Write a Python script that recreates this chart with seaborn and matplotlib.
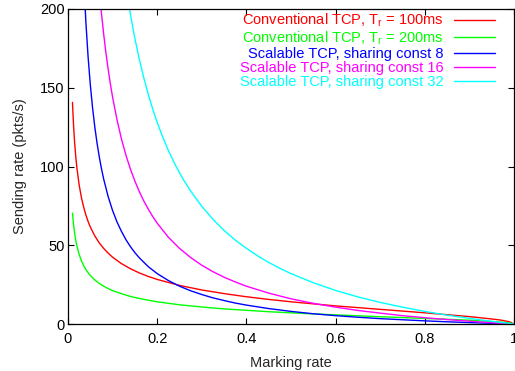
import numpy as np
import pandas as pd
import seaborn as sns
import matplotlib.pyplot as plt

sns.set_style('ticks')
plt.rcParams['font.family'] = ['Liberation Sans', 'DejaVu Sans']
plt.rcParams['mathtext.fontset'] = 'custom'
plt.rcParams['mathtext.rm'] = 'Liberation Sans'
plt.rcParams['mathtext.it'] = 'Liberation Sans:italic'

# Conventional TCP curves
x_conv = [0.01, 0.0125, 0.015, 0.0175, 0.02, 0.025, 0.03, 0.035, 0.04, 0.045, 0.05,
          0.06, 0.07, 0.08, 0.09, 0.1, 0.12, 0.14, 0.16, 0.18, 0.2, 0.25, 0.3, 0.35,
          0.4, 0.45, 0.5, 0.55, 0.6, 0.65, 0.7, 0.75, 0.8, 0.85, 0.9, 0.95, 0.97, 0.99, 1.0]
y_conv100 = [140.7, 125.7, 114.6, 106.0, 99.0, 88.3, 80.4, 74.3, 69.3, 65.1, 61.6,
             56.0, 51.5, 48.0, 45.0, 42.4, 38.3, 35.1, 32.4, 30.2, 28.3, 24.5, 21.6, 19.3,
             17.3, 15.6, 14.1, 12.8, 11.5, 10.4, 9.3, 8.2, 7.1, 5.9, 4.7, 3.2, 2.5, 1.4, 0.0]
y_conv200 = [70.4, 62.8, 57.3, 53.0, 49.5, 44.2, 40.2, 37.1, 34.6, 32.6, 30.8,
             28.0, 25.8, 24.0, 22.5, 21.2, 19.2, 17.5, 16.2, 15.1, 14.1, 12.2, 10.8, 9.6,
             8.7, 7.8, 7.1, 6.4, 5.8, 5.2, 4.6, 4.1, 3.5, 3.0, 2.4, 1.6, 1.2, 0.7, 0.0]

# Scalable TCP curves
x_s8 = [0.035, 0.04, 0.045, 0.05, 0.055, 0.06, 0.065, 0.07, 0.075, 0.08, 0.09, 0.1, 0.11,
        0.12, 0.13, 0.14, 0.15, 0.16, 0.18, 0.2, 0.225, 0.25, 0.275, 0.3, 0.325, 0.35,
        0.375, 0.4, 0.45, 0.5, 0.55, 0.6, 0.65, 0.7, 0.75, 0.8, 0.85, 0.9, 0.95, 1.0]
y_s8 = [220.6, 192.0, 169.8, 152.0, 137.5, 125.3, 115.1, 106.3, 98.7, 92.0, 80.9, 72.0, 64.7,
        58.7, 53.5, 49.1, 45.3, 42.0, 36.4, 32.0, 27.6, 24.0, 21.1, 18.7, 16.6, 14.9,
        13.3, 12.0, 9.8, 8.0, 6.5, 5.3, 4.3, 3.4, 2.7, 2.0, 1.4, 0.9, 0.4, 0.0]
x_s16 = [0.07, 0.075, 0.08, 0.085, 0.09, 0.095, 0.1, 0.11, 0.12, 0.13, 0.14, 0.15, 0.16,
         0.17, 0.18, 0.19, 0.2, 0.225, 0.25, 0.275, 0.3, 0.325, 0.35, 0.375, 0.4, 0.45,
         0.5, 0.55, 0.6, 0.65, 0.7, 0.75, 0.8, 0.85, 0.9, 0.95, 1.0]
y_s16 = [212.6, 197.3, 184.0, 172.2, 161.8, 152.4, 144.0, 129.5, 117.3, 107.1, 98.3, 90.7, 84.0,
         78.1, 72.9, 68.2, 64.0, 55.1, 48.0, 42.2, 37.3, 33.2, 29.7, 26.7, 24.0, 19.6,
         16.0, 13.1, 10.7, 8.6, 6.9, 5.3, 4.0, 2.8, 1.8, 0.8, 0.0]
x_s32 = [0.13, 0.135, 0.14, 0.145, 0.15, 0.16, 0.17, 0.18, 0.19, 0.2, 0.21, 0.225, 0.24,
         0.25, 0.26, 0.275, 0.3, 0.325, 0.35, 0.375, 0.4, 0.425, 0.45, 0.475, 0.5, 0.55,
         0.6, 0.65, 0.7, 0.75, 0.8, 0.85, 0.9, 0.95, 1.0]
y_s32 = [214.2, 205.0, 196.6, 188.7, 181.3, 168.0, 156.2, 145.8, 136.4, 128.0, 120.4, 110.2, 101.3,
         96.0, 91.1, 84.4, 74.7, 66.5, 59.4, 53.3, 48.0, 43.3, 39.1, 35.4, 32.0, 26.2,
         21.3, 17.2, 13.7, 10.7, 8.0, 5.6, 3.6, 1.7, 0.0]

series = [
    (x_conv, y_conv100, 'Conventional TCP, T$_\\mathregular{r}$ = 100ms', '#ff0000'),
    (x_conv, y_conv200, 'Conventional TCP, T$_\\mathregular{r}$ = 200ms', '#00ff00'),
    (x_s8, y_s8, 'Scalable TCP, sharing const 8', '#0000ff'),
    (x_s16, y_s16, 'Scalable TCP, sharing const 16', '#ff00ff'),
    (x_s32, y_s32, 'Scalable TCP, sharing const 32', '#00ffff'),
]

fig = plt.figure(figsize=(5.15, 3.71), dpi=100)
ax = fig.add_axes([68 / 515, 1 - 324 / 371, 446 / 515, 315 / 371])

for xs, ys, lab, col in series:
    sns.lineplot(x=xs, y=ys, ax=ax, color=col, label=lab, lw=1, estimator=None, sort=False)

ax.set_xlim(0, 1)
ax.set_ylim(0, 200)
ax.set_xticks([0, 0.2, 0.4, 0.6, 0.8, 1.0])
ax.set_xticklabels(['0', '0.2', '0.4', '0.6', '0.8', '1'])
ax.set_yticks([0, 50, 100, 150, 200])
ax.tick_params(direction='in', length=4, width=0.8, top=True, right=True, labelsize=10.5, colors='black')
ax.tick_params(axis='x', pad=6)
ax.tick_params(axis='y', pad=2.5)
for s in ax.spines.values():
    s.set_color('black')
    s.set_linewidth(0.9)

ax.set_xlabel('Marking rate', fontsize=10.5, labelpad=7)
ax.set_ylabel('Sending rate (pkts/s)', fontsize=10.5, labelpad=9)

ax.legend(loc='upper right', bbox_to_anchor=(0.964, 1.0), frameon=False, fontsize=10.5,
          markerfirst=False, labelcolor='linecolor', handlelength=2.8, handletextpad=0.7,
          labelspacing=0.0, borderpad=0.2, borderaxespad=0)

plt.savefig('out.png', dpi=100)
